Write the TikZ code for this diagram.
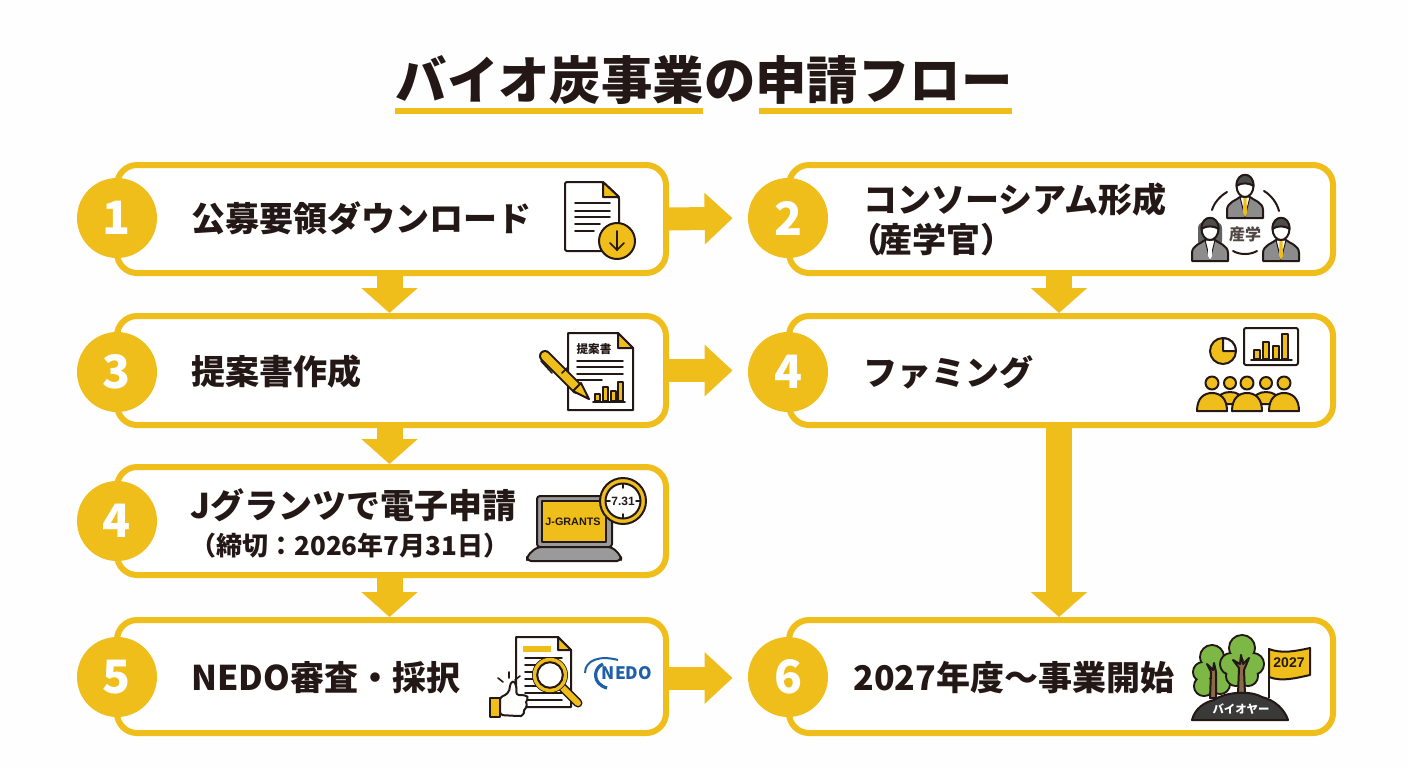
\documentclass[tikz,border=0pt]{standalone}
\usepackage{fontspec}
\setmainfont{Noto Sans CJK JP}
\newfontfamily\latinbold{Liberation Sans}
\usetikzlibrary{arrows.meta}
\definecolor{flowyellow}{HTML}{F0BE1B}
\definecolor{inkblack}{HTML}{231815}
\definecolor{suitgray}{HTML}{8C8C8C}
\definecolor{laptopgray}{HTML}{9A9A9A}
\definecolor{nedoblue}{HTML}{1F5FA5}
\definecolor{treegreen}{HTML}{7DB746}
\definecolor{trunkbrown}{HTML}{8A6A4A}
\definecolor{moundblack}{HTML}{3A3A3A}
\tikzset{
    stepbox/.style={draw=flowyellow, fill=white, line width=3pt, rounded corners=10pt, inner sep=0pt},
    numdot/.style={circle, fill=flowyellow, text=white, minimum size=40pt, inner sep=0pt, font=\bfseries\fontsize{23}{23}\selectfont},
    steptext/.style={anchor=west, inner sep=0pt, align=left, text=inkblack, font=\bfseries\fontsize{17}{20}\selectfont},
    flowarrow/.style={draw=flowyellow, line width=11.5pt, -{Triangle[width=25pt,length=14pt,fill=flowyellow]}},
    downarrow/.style={draw=flowyellow, line width=13pt, -{Triangle[width=27.5pt,length=12.5pt,fill=flowyellow]}},
    iconline/.style={draw=inkblack, line width=1pt, line join=round},
    thinline/.style={draw=inkblack, line width=0.8pt, line cap=round},
}
\begin{document}
\begin{tikzpicture}[x=0.5pt, y=-0.5pt]
\useasboundingbox (0,0) rectangle (1408,768);
\fill[white!99.5!black] (0,0) rectangle (1408,768);

% --- Title ---
\node[inner sep=0pt, text=inkblack, font=\bfseries\fontsize{25.7}{26}\selectfont] (title) at (704,80) {バイオ炭事業の申請フロー};
\fill[flowyellow] (395,108) rectangle (703,114);
\fill[flowyellow] (759,108) rectangle (1012,114);

% --- Step boxes ---
\foreach \name/\cx/\cy/\h in {boxA/391.5/219/108, boxC/391.5/370.5/109, boxD/391.5/521/108, boxF/391.5/676.5/113,
                              boxB/1061/219/108, boxE/1061/370.5/109, boxG/1061/676.5/113} {
    \pgfmathsetmacro{\boxw}{\cx>1000 ? 544*0.5 : 549*0.5}
    \node[stepbox, minimum width=\boxw pt, minimum height=\h*0.5 pt] (\name) at (\cx,\cy) {};
}

% --- Number circles ---
\foreach \name/\cx/\cy/\num in {numA/117/218/1, numC/117/372/3, numD/117/521/4, numF/117/677/5,
                                numB/788/218/2, numE/788/372/4, numG/788/677/6} {
    \node[numdot] (\name) at (\cx,\cy) {\num};
}

% --- Step labels ---
\node[steptext] (txtA) at (191,218) {公募要領ダウンロード};
\node[steptext] (txtC) at (191,372) {提案書作成};
\node[steptext] (txtD) at (190,523) {Jグランツで電子申請\\[-1.5pt]{\fontsize{13}{18}\selectfont （締切：2026年7月31日）}};
\node[steptext] (txtF) at (191,678) {NEDO審査・採択};
\node[steptext] (txtB) at (863,219) {コンソーシアム形成\\\hspace*{-7.5pt}（\hspace{-2pt}産学官）};
\node[steptext] (txtE) at (863,372) {ファミング};
\node[steptext] (txtG) at (853,678) {2027年度〜事業開始};

% --- Connectors ---
\draw[flowarrow, shorten >=7.5pt] (boxA.east) -- (numB.west);
\draw[flowarrow, shorten >=7.5pt] (boxC.east) -- (boxC.east -| numE.west);
\draw[flowarrow, shorten >=7.5pt] ([yshift=-0.75pt]boxF.east) -- ([yshift=-0.75pt]boxF.east -| numG.west);
\draw[downarrow] ([xshift=-1pt]boxA.south) -- ([xshift=-1pt]boxC.north);
\draw[downarrow] ([xshift=-1pt]boxC.south) -- ([xshift=-1pt]boxD.north);
\draw[downarrow] ([xshift=-1pt]boxD.south) -- ([xshift=-1pt]boxF.north);
\draw[downarrow] ([xshift=-1pt]boxB.south) -- ([xshift=-1pt]boxE.north);
\draw[downarrow] ([xshift=-1pt]boxE.south) -- ([xshift=-1pt]boxG.north);

% --- Icon: download document ---
\draw[iconline, fill=white, rounded corners=1pt] (565,182) -- (603,182) -- (619,197) -- (619,251) -- (565,251) -- cycle;
\draw[iconline, fill=flowyellow] (603,182) -- (603,197) -- (619,197) -- cycle;
\foreach \ly/\lx in {203/610, 211/610, 217/610, 224/600, 231/594} {
    \draw[thinline] (575,\ly) -- (\lx,\ly);
}
\draw[iconline, fill=flowyellow] (617,241) circle (18);
\draw[thinline] (617,231) -- (617,250);
\draw[thinline] (610,243) -- (617,250) -- (624,243);

% --- Icon: proposal and pen ---
\draw[iconline, fill=white] (568,333) -- (618,333) -- (633,348) -- (633,410) -- (568,410) -- cycle;
\draw[iconline, fill=flowyellow] (618,333) -- (618,348) -- (633,348) -- cycle;
\node[inner sep=0pt, text=inkblack, font=\bfseries\fontsize{5.8}{6}\selectfont] (txtProposal) at (594,349) {提案書};
\foreach \ly/\lx in {361/623, 367/623, 374/623, 380/602} {
    \draw[thinline] (577,\ly) -- (\lx,\ly);
}
\foreach \bx/\by in {595/394, 603/387, 611/391, 618/382} {
    \draw[iconline, fill=flowyellow] (\bx,401) rectangle (\bx+5,\by);
}
\draw[thinline] (593,402) -- (625,402);
\draw[thinline] (541,361) -- (552,373);
\draw[draw=inkblack, line width=6pt, line cap=round] (545,356) -- (577,388);
\draw[draw=flowyellow, line width=4pt, line cap=round] (545,356) -- (577,388);
\draw[iconline, fill=flowyellow] (573,391) -- (581,383) -- (589,399) -- cycle;
\draw[thinline] (562,373) -- (567,368);

% --- Icon: consortium people ---
\draw[thinline, line width=1pt] (1212,210) .. controls (1214,203) and (1220,196) .. (1227,192);
\draw[thinline, line width=1pt] (1264,191) .. controls (1271,195) and (1277,203) .. (1279,211);
\draw[thinline, line width=1pt] (1233,251) .. controls (1240,255) and (1250,255) .. (1257,251);
\fill[suitgray!70!black, rounded corners=3pt] (1198,222) rectangle (1222,247);
\foreach \px/\py/\tie in {1245/186/flowyellow, 1281/229/flowyellow, 1210/229/white} {
    \draw[iconline, fill=suitgray] (\px-18,\py+32) -- (\px-18,\py+24) .. controls (\px-18,\py+16) and (\px-8,\py+14) .. (\px-5,\py+11) -- (\px+5,\py+11) .. controls (\px+8,\py+14) and (\px+18,\py+16) .. (\px+18,\py+24) -- (\px+18,\py+32) -- cycle;
    \draw[draw=inkblack, line width=0.5pt, fill=white] (\px-5,\py+11) -- (\px+5,\py+11) -- (\px,\py+31) -- cycle;
    \fill[\tie] (\px-1.5,\py+12) -- (\px+1.5,\py+12) -- (\px+2,\py+27) -- (\px,\py+31) -- (\px-2,\py+27) -- cycle;
    \draw[iconline, fill=white] (\px,\py) ellipse [x radius=8.5, y radius=11];
    \draw[iconline, fill=suitgray!55!black] (\px-8.5,\py) .. controls (\px-9,\py-15) and (\px+9,\py-15) .. (\px+8.5,\py) .. controls (\px+5,\py-3) and (\px-4,\py-4) .. (\px-8.5,\py) -- cycle;
}
\node[inner sep=0pt, text=inkblack!80, font=\bfseries\fontsize{8}{8}\selectfont] (txtSangaku) at (1245,234) {産学};

% --- Icon: farming chart and audience ---
\draw[iconline, fill=flowyellow] (1223,351) circle (13);
\draw[iconline, fill=white] (1223,351) -- (1236,351) arc [start angle=0, end angle=-90, radius=13] -- cycle;
\draw[iconline, fill=white, rounded corners=1pt] (1244,328) rectangle (1298,365);
\foreach \bx/\by in {1254/350, 1263/342, 1273/346, 1282/334} {
    \draw[iconline, fill=flowyellow] (\bx,359) rectangle (\bx+6,\by);
}
\draw[thinline] (1251,360) -- (1292,360);
\foreach \hx in {1230, 1266} {
    \draw[iconline, fill=flowyellow] (\hx-13,404) .. controls (\hx-13,395) and (\hx-7,392) .. (\hx,392) .. controls (\hx+7,392) and (\hx+13,395) .. (\hx+13,404) -- cycle;
    \draw[iconline, fill=flowyellow] (\hx,383) circle (6);
}
\foreach \hx in {1212, 1247, 1284} {
    \draw[iconline, fill=flowyellow] (\hx-15,411) .. controls (\hx-15,398) and (\hx-8,393) .. (\hx,393) .. controls (\hx+8,393) and (\hx+15,398) .. (\hx+15,411) -- cycle;
    \draw[iconline, fill=flowyellow] (\hx,383) circle (6.5);
}

% --- Icon: laptop and deadline clock ---
\draw[iconline, fill=laptopgray, rounded corners=1.5pt] (537,547) -- (537,496) -- (612,496) -- (612,547) -- cycle;
\draw[iconline, fill=flowyellow] (542,501) rectangle (606,542);
\node[inner sep=0pt, text=inkblack, font=\latinbold\bfseries\fontsize{5.4}{6}\selectfont] (txtGrants) at (573,522) {J-GRANTS};
\draw[iconline, fill=laptopgray, rounded corners=2pt] (537,547) -- (612,547) -- (621,556) -- (621,561) -- (527,561) -- (527,556) -- cycle;
\draw[iconline, fill=flowyellow] (623,501) circle (23);
\draw[iconline, fill=white] (623,501) circle (17.5);
\foreach \tx/\ty/\ux/\uy in {623/484/623/488, 623/518/623/514, 606/501/610/501, 640/501/636/501} {
    \draw[thinline] (\tx,\ty) -- (\ux,\uy);
}
\node[inner sep=0pt, text=inkblack, font=\latinbold\bfseries\fontsize{6}{6}\selectfont] (txtClock) at (623,501) {7.31};

% --- Icon: review document, thumb and NEDO mark ---
\draw[iconline, fill=white] (516,637) -- (558,637) -- (571,650) -- (571,707) -- (516,707) -- cycle;
\draw[iconline, fill=flowyellow] (558,637) -- (558,650) -- (571,650) -- cycle;
\fill[flowyellow] (523,646) rectangle (551,652);
\foreach \ly in {658, 665, 672, 679, 686, 693, 700} {
    \draw[thinline] (525,\ly) -- (562,\ly);
}
\draw[draw=inkblack, line width=4.5pt, line cap=round] (562,687) -- (578,703);
\draw[draw=flowyellow, line width=3pt, line cap=round] (562,687) -- (578,703);
\draw[iconline, fill=white] (550,675) circle (17);
\draw[draw=flowyellow, line width=2.2pt] (550,675) circle (15);
\draw[iconline] (550,675) circle (12.8);
\draw[iconline, fill=white, rounded corners=1.5pt] (500,697) .. controls (506,695) and (510,692) .. (510,683) .. controls (514,681) and (517,684) .. (516,695) -- (525,695) .. controls (528,697) and (527,700) .. (525,702) .. controls (527,705) and (526,708) .. (523,710) .. controls (524,713) and (522,716) .. (518,716) -- (500,715) -- cycle;
\draw[iconline, fill=flowyellow] (490,698) rectangle (500,717);
\draw[thinline] (498,678) -- (503,682);
\draw[thinline] (509,672) -- (509,678);
\draw[thinline] (515,680) -- (520,676);
\draw[draw=nedoblue, line width=1pt] (585,673) .. controls (585,660) and (600,655) .. (618,660);
\draw[draw=nedoblue, line width=1.6pt] (603,664) .. controls (593,668) and (592,684) .. (607,688);
\node[inner sep=0pt, text=nedoblue, font=\bfseries\fontsize{8.6}{9}\selectfont] (txtNedo) at (627,673) {NEDO};

% --- Icon: trees, mound and flag ---
\foreach \cx/\cy/\rr in {1212/657/12, 1203/672/10, 1221/672/10, 1204/686/10, 1220/684/10} {
    \draw[iconline, fill=treegreen] (\cx,\cy) circle (\rr);
}
\foreach \cx/\cy/\rr in {1212/657/12, 1203/672/10, 1221/672/10, 1204/686/10, 1220/684/10} {
    \fill[treegreen] (\cx,\cy) circle (\rr-1.2);
}
\draw[iconline, fill=trunkbrown] (1210,698) -- (1211,672) -- (1207,664) -- (1213,670) -- (1214,663) -- (1216,672) -- (1216,698) -- cycle;
\foreach \cx/\cy/\rr in {1242/648/13, 1231/664/11, 1253/664/11, 1236/676/10, 1248/676/10} {
    \draw[iconline, fill=treegreen] (\cx,\cy) circle (\rr);
}
\foreach \cx/\cy/\rr in {1242/648/13, 1231/664/11, 1253/664/11, 1236/676/10, 1248/676/10} {
    \fill[treegreen] (\cx,\cy) circle (\rr-1.2);
}
\draw[iconline, fill=trunkbrown] (1238,694) -- (1239,668) -- (1233,660) -- (1240,664) -- (1241,655) -- (1243,664) -- (1249,658) -- (1244,670) -- (1245,694) -- cycle;
\draw[iconline] (1269,648) -- (1269,698);
\draw[iconline, fill=flowyellow] (1269,649) .. controls (1282,654) and (1296,651) .. (1310,648) -- (1310,675) .. controls (1296,678) and (1282,682) .. (1269,677) -- cycle;
\node[inner sep=0pt, text=inkblack, font=\latinbold\bfseries\fontsize{7}{7}\selectfont] (txtFlag) at (1289,663) {2027};
\draw[iconline, fill=moundblack] (1192,720) .. controls (1195,708) and (1205,702) .. (1214,700) .. controls (1225,692) and (1250,690) .. (1262,697) .. controls (1275,700) and (1285,710) .. (1288,720) -- cycle;
\node[inner sep=0pt, text=white, font=\bfseries\fontsize{5.7}{6}\selectfont] (txtMound) at (1241,709) {バイオヤー};

\end{tikzpicture}
\end{document}
